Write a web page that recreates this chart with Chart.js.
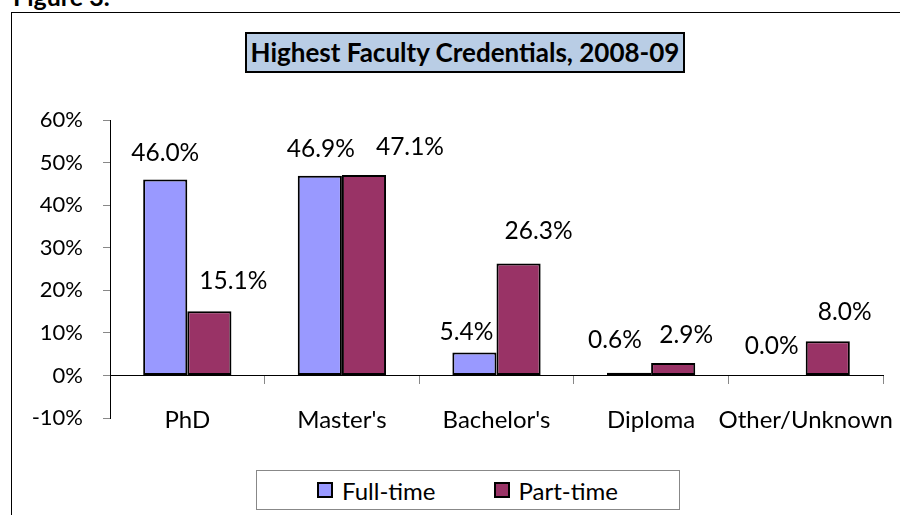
<!DOCTYPE html>
<html>
<head>
<meta charset="utf-8">
<script src="https://cdn.jsdelivr.net/npm/chart.js@4/dist/chart.umd.min.js"></script>
<style>
    body { margin: 0; background: #fff; font-family: Lato, Carlito, Calibri, sans-serif; }
    #wrap { position: relative; width: 900px; height: 515px; overflow: hidden; }
    #figLabel { position: absolute; left: 13px; top: -19px; font-weight: bold; font-size: 25px; color: #000; }
    #frame { position: absolute; left: 11px; top: 12px; width: 1000px; height: 600px; border: 1.5px solid #000; box-sizing: border-box; }
    #titleBox {
        position: absolute; left: 245px; top: 32px; width: 440px; height: 41px;
        background: #b9cde5; border: 2px solid #000; box-sizing: border-box;
        font-weight: bold; font-size: 26px; text-align: center; line-height: 36px; color: #000;
    }
    #legendBox {
        position: absolute; left: 256px; top: 470px; width: 424px; height: 40px;
        border: 1px solid #888; box-sizing: border-box; background: #fff;
        display: flex; align-items: center; padding-left: 60px;
        font-size: 24px; color: #000;
    }
    .legItem { display: flex; align-items: center; }
    .legSwatch { width: 12px; height: 12px; border: 2px solid #000; margin-right: 9px; }
    canvas { position: absolute; left: 0; top: 0; }
</style>
</head>
<body>
<div id="wrap">
    <div id="figLabel">Figure 3.</div>
    <div id="frame"></div>
    <canvas id="chart" width="900" height="515"></canvas>
    <div id="titleBox">Highest Faculty Credentials, 2008-09</div>
    <div id="legendBox"></div>
</div>
<script>
const categories = ['PhD', "Master's", "Bachelor's", 'Diploma', 'Other/Unknown'];
const fullTime = [46.0, 46.9, 5.4, 0.6, 0.0];
const partTime = [15.1, 47.1, 26.3, 2.9, 8.0];
const seriesNames = ['Full-time', 'Part-time'];
const yTicks = [-10, 0, 10, 20, 30, 40, 50, 60];

const colors = {
    full: '#9999ff',
    part: '#993366'
};

// label nudges (dx, dy from top of bar), as placed in the original
const labelNudge = [
    [[0, -27], [1, -27], [-8, -20], [-14, -33], [-12, -29]],
    [[24, -30], [46, -28], [20, -32], [13, -28], [17, -29]]
];

Chart.defaults.font.family = 'Lato, Carlito, Calibri, sans-serif';
Chart.defaults.color = '#000';

const valueLabels = {
    id: 'valueLabels',
    afterDatasetsDraw(chart) {
        const ctx = chart.ctx;
        ctx.save();
        ctx.font = '24.5px Lato, Carlito, Calibri, sans-serif';
        ctx.fillStyle = '#000';
        ctx.textAlign = 'center';
        ctx.textBaseline = 'middle';
        chart.data.datasets.forEach((ds, i) => {
            chart.getDatasetMeta(i).data.forEach((bar, j) => {
                const n = labelNudge[i][j];
                ctx.fillText(ds.data[j].toFixed(1) + '%', bar.x + n[0], bar.y + n[1]);
            });
        });
        ctx.restore();
    }
};

const chart = new Chart(document.getElementById('chart').getContext('2d'), {
    type: 'bar',
    data: {
        labels: categories,
        datasets: [{
            label: seriesNames[0],
            data: fullTime,
            backgroundColor: colors.full,
            borderColor: '#000',
            borderWidth: 2,
            borderSkipped: false
        }, {
            label: seriesNames[1],
            data: partTime,
            backgroundColor: colors.part,
            borderColor: '#000',
            borderWidth: 2,
            borderSkipped: false
        }]
    },
    options: {
        responsive: false,
        animation: false,
        categoryPercentage: 0.571,
        barPercentage: 1,
        layout: { padding: { top: 120, right: 17, bottom: 97, left: 0 } },
        plugins: {
            legend: { display: false },
            tooltip: { enabled: false }
        },
        scales: {
            x: {
                position: { y: 0 },
                afterFit: s => { s.height = 0; s.paddingLeft = 0; s.paddingRight = 0; },
                border: { color: '#000', width: 1 },
                grid: { drawOnChartArea: false, tickLength: 8, color: '#888' },
                ticks: { padding: 22, font: { size: 24 }, maxRotation: 0, autoSkip: false }
            },
            y: {
                min: yTicks[0],
                max: yTicks[yTicks.length - 1],
                afterFit: s => { s.width = 110; },
                afterBuildTicks: s => { s.ticks = yTicks.map(v => ({ value: v })); },
                border: { color: '#000', width: 1 },
                grid: { drawOnChartArea: false, tickLength: 7, color: '#888' },
                ticks: { padding: 20, font: { size: 22 }, callback: v => v + '%' }
            }
        }
    },
    plugins: [valueLabels]
});

// legend built from the datasets
const legendBox = document.getElementById('legendBox');
chart.data.datasets.forEach((ds, i) => {
    const item = document.createElement('div');
    item.className = 'legItem';
    if (i > 0) item.style.marginLeft = '58px';
    const sw = document.createElement('span');
    sw.className = 'legSwatch';
    sw.style.background = ds.backgroundColor;
    const txt = document.createElement('span');
    txt.textContent = ds.label;
    item.appendChild(sw);
    item.appendChild(txt);
    legendBox.appendChild(item);
});
</script>
</body>
</html>
